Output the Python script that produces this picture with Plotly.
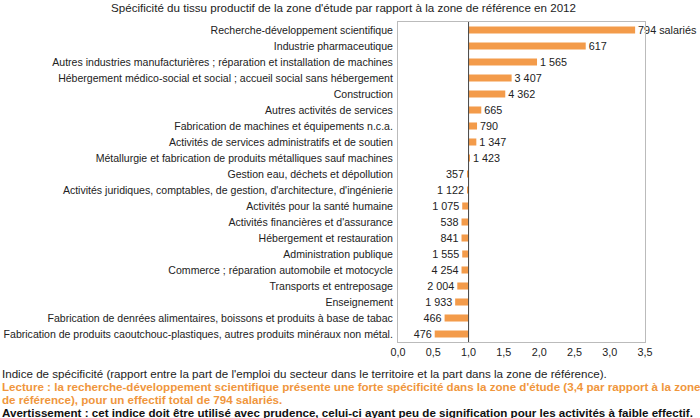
import plotly.graph_objects as go

categories = [
    "Recherche-développement scientifique",
    "Industrie pharmaceutique",
    "Autres industries manufacturières ; réparation et installation de machines",
    "Hébergement médico-social et social ; accueil social sans hébergement",
    "Construction",
    "Autres activités de services",
    "Fabrication de machines et équipements n.c.a.",
    "Activités de services administratifs et de soutien",
    "Métallurgie et fabrication de produits métalliques sauf machines",
    "Gestion eau, déchets et dépollution",
    "Activités juridiques, comptables, de gestion, d'architecture, d'ingénierie",
    "Activités pour la santé humaine",
    "Activités financières et d'assurance",
    "Hébergement et restauration",
    "Administration publique",
    "Commerce ; réparation automobile et motocycle",
    "Transports et entreposage",
    "Enseignement",
    "Fabrication de denrées alimentaires, boissons et produits à base de tabac",
    "Fabrication de produits caoutchouc-plastiques, autres produits minéraux non métal.",
]
specificity = [3.36, 2.66, 1.97, 1.61, 1.52, 1.18, 1.12, 1.11, 1.01, 0.99,
               0.98, 0.91, 0.90, 0.90, 0.91, 0.90, 0.84, 0.81, 0.66, 0.52]
employees = [794, 617, 1565, 3407, 4362, 665, 790, 1347, 1423, 357,
             1122, 1075, 538, 841, 1555, 4254, 2004, 1933, 466, 476]
x_ticks = [0.0, 0.5, 1.0, 1.5, 2.0, 2.5, 3.0, 3.5]
reference = 1.0

labels = [f"{n:,}".replace(",", " ") for n in employees]
labels[0] = labels[0] + " salariés"

FONT = "Liberation Sans, Arial, sans-serif"
ORANGE = "#F39B4A"
LBL = 10.55
NOTE = 11.6

fig = go.Figure()
fig.add_trace(go.Bar(
    y=categories,
    x=[v - reference for v in specificity],
    base=reference,
    orientation="h",
    marker=dict(color=ORANGE, line=dict(width=0)),
    text=labels,
    textposition="outside",
    constraintext="none",
    cliponaxis=False,
    textfont=dict(family=FONT, size=10.8, color="#222222"),
    hoverinfo="skip",
))

fig.add_shape(type="line", xref="x", yref="paper", x0=reference, x1=reference,
              y0=0, y1=1, line=dict(color="#444444", width=1))

W, H = 700, 418
L, R, T, B = 398, 55, 22, 76
pw, ph = W - L - R, H - T - B

def px_x(px):
    return (px - L) / pw

def px_y(py):
    return (H - B - py) / ph

notes = [
    ("Indice de spécificité (rapport entre la part de l'emploi du secteur dans le territoire et la part dans la zone de référence).", "#222222", False, 373),
    ("Lecture : la recherche-développement scientifique présente une forte spécificité dans la zone d'étude (3,4 par rapport à la zone", "#F0963C", True, 386),
    ("de référence), pour un effectif total de 794 salariés.", "#F0963C", True, 399),
    ("Avertissement : cet indice doit être utilisé avec prudence, celui-ci ayant peu de signification pour les activités à faible effectif.", "#111111", True, 412),
]
annotations = []
for txt, col, bold, py in notes:
    annotations.append(dict(
        text=f"<b>{txt}</b>" if bold else txt,
        xref="paper", yref="paper", x=px_x(0), y=px_y(py),
        xanchor="left", yanchor="middle", showarrow=False,
        font=dict(family=FONT, size=NOTE, color=col),
    ))
annotations.append(dict(
    text="Spécificité du tissu productif de la zone d'étude par rapport à la zone de référence en 2012",
    xref="paper", yref="paper", x=px_x(343), y=px_y(7),
    xanchor="center", yanchor="middle", showarrow=False,
    font=dict(family=FONT, size=NOTE, color="#222222"),
))

fig.update_layout(
    width=W, height=H,
    margin=dict(l=L, r=R, t=T, b=B, autoexpand=False),
    paper_bgcolor="white", plot_bgcolor="white",
    separators=", ",
    showlegend=False,
    bargap=0.56,
    font=dict(family=FONT, size=LBL, color="#222222"),
    annotations=annotations,
    xaxis=dict(
        range=[0, 3.5], tickvals=x_ticks, tickformat=".1f",
        showgrid=False, zeroline=False, automargin=False,
        showline=True, mirror=True, linecolor="#BBBBBB", linewidth=1,
        ticks="", tickfont=dict(family=FONT, size=10.8, color="#222222"),
        fixedrange=True,
    ),
    yaxis=dict(
        autorange="reversed", showgrid=False, zeroline=False, automargin=False,
        showline=True, mirror=True, linecolor="#BBBBBB", linewidth=1,
        ticks="", ticklabelstandoff=2,
        tickfont=dict(family=FONT, size=LBL, color="#222222"),
        fixedrange=True,
    ),
)

fig.write_html("out.html", config={"displayModeBar": False},
               post_script="document.body.style.margin='0';")
